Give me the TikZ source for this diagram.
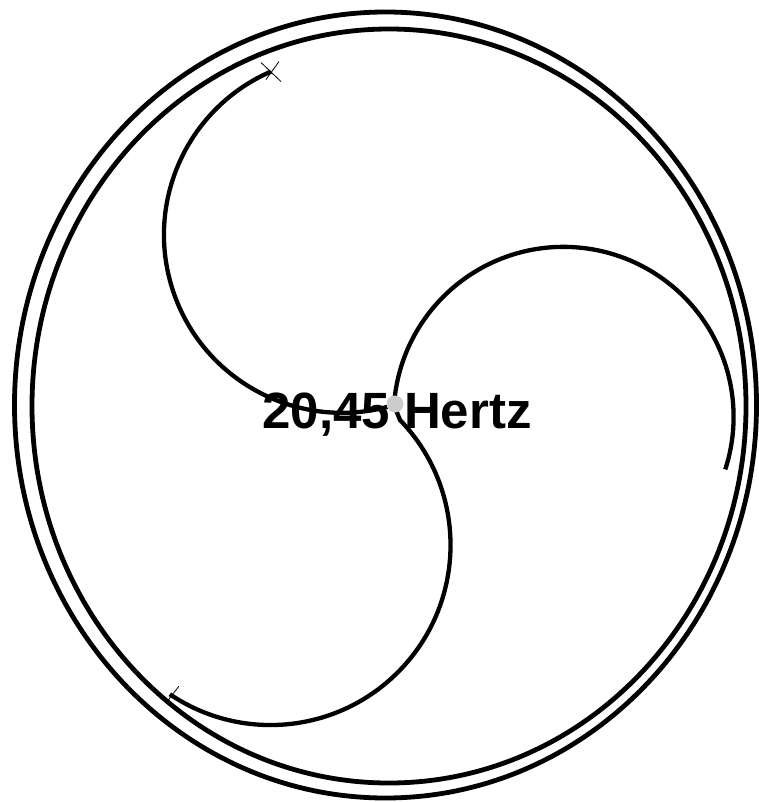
\documentclass[tikz,border=0pt]{standalone}
\usepackage{fontspec}
\setsansfont{Liberation Sans}

\begin{document}
\begin{tikzpicture}[x=1pt, y=1pt,
    ring/.style={line width=4.8pt},
    arm/.style={line width=4.3pt},
    tk/.style={line width=0.8pt},
    hz/.style={font=\sffamily\bfseries\fontsize{51}{51}\selectfont, inner sep=0pt},
  ]
  \useasboundingbox (0,0) rectangle (759,-802);
  \coordinate (mid) at (394,-405);
  \coordinate (s3) at (400,-420);
  \draw[ring] (385.5,-405) ellipse [x radius=371pt, y radius=393pt];
  \draw[ring] (389,-406) ellipse [x radius=357pt, y radius=377pt];
  \draw[arm] (mid) arc[start angle=-73, end angle=-246.5, radius=178pt] coordinate (e1);
  \draw[arm] (mid) arc[start angle=176, end angle=-18, radius=170pt] coordinate (e2);
  \draw[arm] (mid) -- (s3) arc[start angle=44, end angle=-124, radius=180pt] coordinate (e3);
  \draw[tk] ([shift={(-10,9)}]e1) -- ([shift={(10,-10)}]e1);
  \draw[tk] ([shift={(8,10)}]e1) -- ([shift={(-5,-8)}]e1);
  \draw[tk] ([shift={(-4,-9)}]e3) -- ([shift={(9,8)}]e3);
  \node[circle, fill=gray!40, minimum size=17pt, inner sep=0pt] (hub) at (395,-404) {};
  \node[hz, anchor=base] (freq) at (397,-428) {20,45 Hertz};
\end{tikzpicture}
\end{document}
